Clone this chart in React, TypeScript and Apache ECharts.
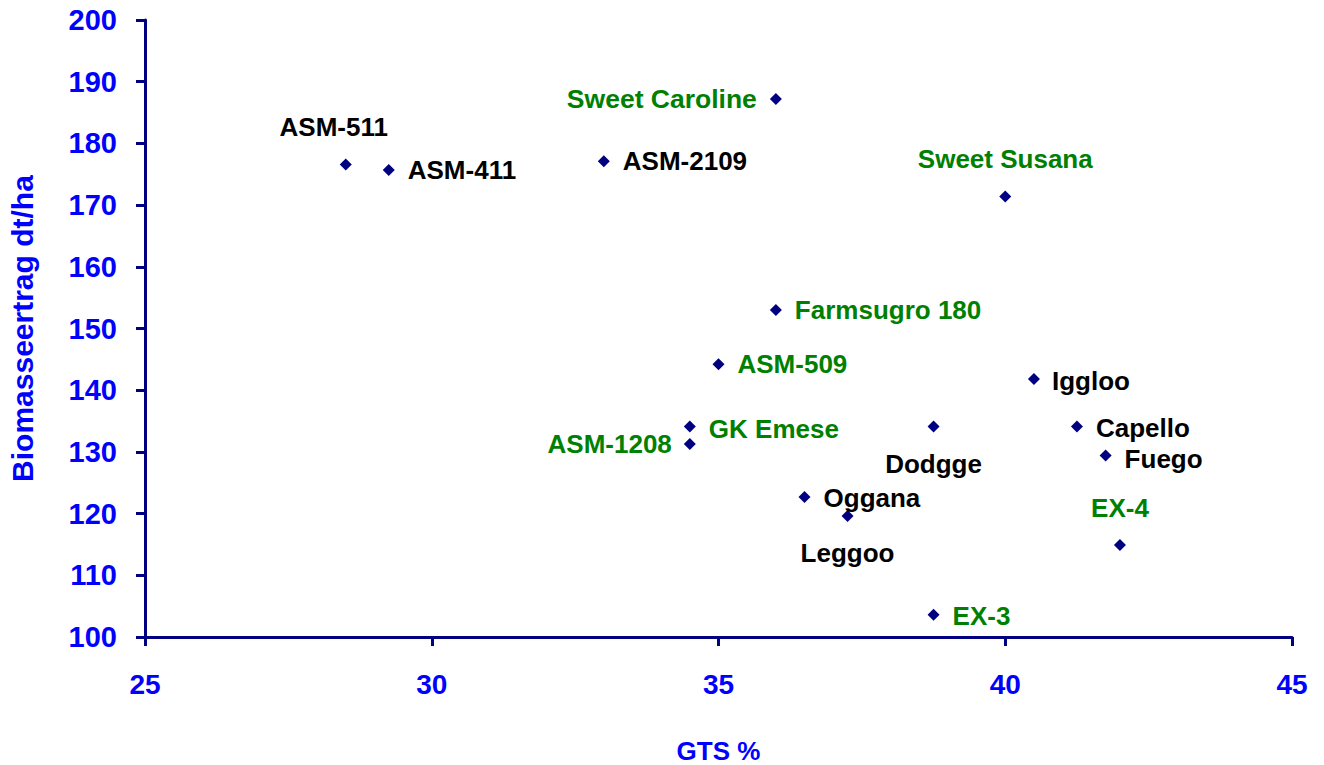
import React, { useEffect, useRef } from "react";
import * as echarts from "echarts";

const varieties = [
  "ASM-511", "ASM-411", "ASM-2109", "Sweet Caroline", "Sweet Susana",
  "Farmsugro 180", "ASM-509", "GK Emese", "ASM-1208", "Iggloo",
  "Capello", "Fuego", "Dodgge", "Oggana", "Leggoo", "EX-4", "EX-3",
];
const gts = [28.5, 29.25, 33, 36, 40, 36, 35, 34.5, 34.5, 40.5, 41.25, 41.75, 38.75, 36.5, 37.25, 42, 38.75];
const biomass = [176.6, 175.7, 177.1, 187.2, 171.4, 153, 144.2, 134.1, 131.3, 141.8, 134.1, 129.4, 134.1, 122.7, 119.6, 114.9, 103.6];
const sweetGroup = [false, false, false, true, true, true, true, true, true, false, false, false, false, false, false, true, true];
const xTicks = [25, 45, 5];
const yTicks = [100, 200, 10];

const labelPlacement: Record<string, any> = {
  "ASM-511": { position: "top", distance: 18, offset: [-12, 0] },
  "ASM-411": { position: "right", distance: 13 },
  "ASM-2109": { position: "right", distance: 13 },
  "Sweet Caroline": { position: "left", distance: 13, fontSize: 26.5 },
  "Sweet Susana": { position: "top", distance: 18 },
  "Farmsugro 180": { position: "right", distance: 13 },
  "ASM-509": { position: "right", distance: 13 },
  "GK Emese": { position: "right", distance: 13, offset: [0, 2] },
  "ASM-1208": { position: "left", distance: 12 },
  "Iggloo": { position: "right", distance: 12, offset: [0, 2] },
  "Capello": { position: "right", distance: 13, offset: [0, 1] },
  "Fuego": { position: "right", distance: 13, offset: [0, 3] },
  "Dodgge": { position: "bottom", distance: 18 },
  "Oggana": { position: "right", distance: 13, offset: [0, 1] },
  "Leggoo": { position: "bottom", distance: 18 },
  "EX-4": { position: "top", distance: 18 },
  "EX-3": { position: "right", distance: 13, offset: [0, 1] },
};

const FONT = "'Liberation Sans', Arial, sans-serif";
const AXIS_COLOR = "#000080";
const TICK_COLOR = "#0000FF";

export default function App() {
  const ref = useRef<HTMLDivElement>(null);
  useEffect(() => {
    if (!ref.current) return;
    const chart = echarts.init(ref.current, undefined, { renderer: "svg" });
    const data = varieties.map((name, i) => ({
      name,
      value: [gts[i], biomass[i]],
      label: {
        show: true,
        formatter: name,
        color: sweetGroup[i] ? "#008000" : "#000000",
        fontFamily: FONT,
        fontWeight: "bold",
        fontSize: 26,
        ...labelPlacement[name],
      },
    }));
    chart.setOption({
      animation: false,
      backgroundColor: "#ffffff",
      grid: { left: 145, right: 32, top: 20, bottom: 128, containLabel: false, outerBoundsMode: "none" },
      xAxis: {
        type: "value",
        min: xTicks[0],
        max: xTicks[1],
        interval: xTicks[2],
        name: "GTS %",
        nameLocation: "middle",
        nameGap: 101,
        nameTextStyle: { color: TICK_COLOR, fontFamily: FONT, fontWeight: "bold", fontSize: 26 },
        axisLine: { show: true, onZero: false, lineStyle: { color: AXIS_COLOR, width: 3 } },
        axisTick: { show: true, inside: false, length: 9, lineStyle: { color: AXIS_COLOR, width: 3 } },
        axisLabel: { color: TICK_COLOR, fontFamily: FONT, fontWeight: "bold", fontSize: 28, margin: 33 },
        splitLine: { show: false },
      },
      yAxis: {
        type: "value",
        min: yTicks[0],
        max: yTicks[1],
        interval: yTicks[2],
        name: "Biomasseertrag dt/ha",
        nameLocation: "middle",
        nameGap: 108,
        nameTextStyle: { color: TICK_COLOR, fontFamily: FONT, fontWeight: "bold", fontSize: 30 },
        axisLine: { show: true, onZero: false, lineStyle: { color: AXIS_COLOR, width: 3 } },
        axisTick: { show: true, inside: false, length: 9, lineStyle: { color: AXIS_COLOR, width: 3 } },
        axisLabel: { color: TICK_COLOR, fontFamily: FONT, fontWeight: "bold", fontSize: 29, margin: 28 },
        splitLine: { show: false },
      },
      series: [
        {
          type: "scatter",
          symbol: "path://M5 0 L10 5 L5 10 L0 5 Z",
          symbolSize: 12,
          itemStyle: { color: AXIS_COLOR, opacity: 1 },
          emphasis: { disabled: true },
          data,
        },
      ],
    });
    return () => chart.dispose();
  }, []);
  return (
    <div
      ref={ref}
      style={{ position: "fixed", left: 0, top: 0, width: 1324, height: 765, background: "#fff" }}
    />
  );
}
